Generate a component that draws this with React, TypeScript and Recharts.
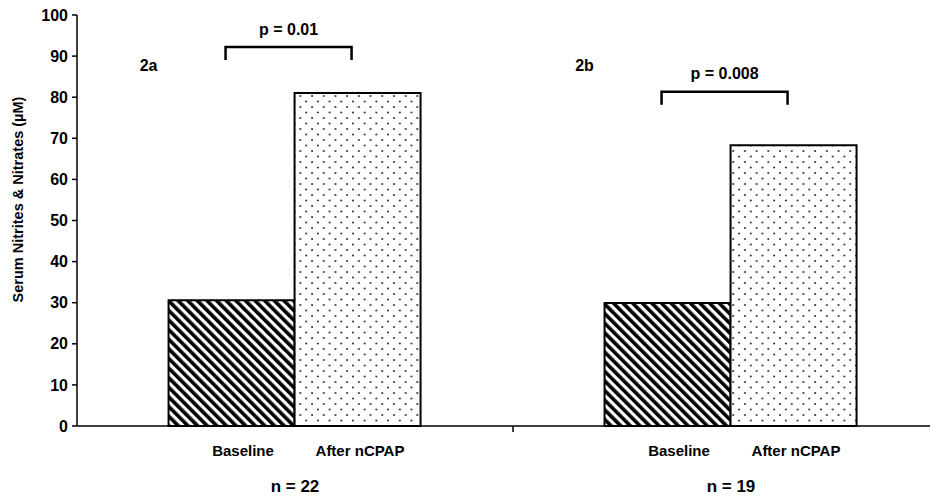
import React from 'react';
import { BarChart, Bar, XAxis, YAxis, LabelList } from 'recharts';

const groups = ['2a', '2b'];
const baselineValues = [30.6, 29.9];
const afterValues = [81.0, 68.3];
const seriesLabels = ['Baseline', 'After nCPAP'];
const nLabels = ['n = 22', 'n = 19'];
const pLabels = ['p = 0.01', 'p = 0.008'];
const bracketLevels = [92.2, 81.3];
const panelLabelLevel = 87.8;
const yTicks = [0, 10, 20, 30, 40, 50, 60, 70, 80, 90, 100];
const yTitle = 'Serum Nitrites & Nitrates (\u00b5M)';

const data = groups.map((g, i) => ({
  group: g,
  baseline: baselineValues[i],
  after: afterValues[i],
}));

const FONT = '"Liberation Sans", Arial, Helvetica, sans-serif';

const GroupTick = (props: any) => {
  const { x, y, payload, width, visibleTicksCount } = props;
  const i = payload?.index ?? props.index ?? 0;
  let off = payload?.offset;
  if (!(typeof off === 'number' && off > 3)) {
    off = width && visibleTicksCount ? width / visibleTicksCount / 2 : 0;
  }
  return (
    <g fontFamily={FONT} fontWeight="bold" fill="#000">
      <text x={x - 52} y={y + 30} textAnchor="middle" fontSize={15} fill="#000">
        {seriesLabels[0]}
      </text>
      <text x={x + 65} y={y + 30} textAnchor="middle" fontSize={15} fill="#000">
        {seriesLabels[1]}
      </text>
      <text x={x} y={y + 66} textAnchor="middle" fontSize={17} fill="#000">
        {nLabels[i]}
      </text>
      {i < groups.length - 1 && off ? (
        <line x1={x + off} x2={x + off} y1={y} y2={y + 6} stroke="#000" strokeWidth={1.5} />
      ) : null}
    </g>
  );
};

const BracketLabel = (props: any) => {
  const { x, y, width, height, index } = props;
  const v = afterValues[index];
  if (!v || !height) return null;
  const ppu = height / v;
  const base = y + height;
  const top = base - bracketLevels[index] * ppu;
  const left = x - width / 2 - 6;
  const right = x + width / 2 - 6;
  const panelY = base - panelLabelLevel * ppu;
  return (
    <g fontFamily={FONT} fontWeight="bold">
      <path
        d={`M${left},${top + 13} L${left},${top} L${right},${top} L${right},${top + 13}`}
        fill="none"
        stroke="#000"
        strokeWidth={2.5}
      />
      <text
        x={(left + right) / 2}
        y={top - 18}
        textAnchor="middle"
        dominantBaseline="central"
        fontSize={16}
        fill="#000"
      >
        {pLabels[index]}
      </text>
      <text
        x={x - width - 20}
        y={panelY}
        textAnchor="middle"
        dominantBaseline="central"
        fontSize={16}
        fill="#000"
      >
        {groups[index]}
      </text>
    </g>
  );
};

const YTitle = (props: any) => {
  const vb = props.viewBox || { x: 0, y: 0, width: 0, height: 0 };
  const cx = 18;
  const cy = vb.y + vb.height / 2 - 21;
  return (
    <text
      x={cx}
      y={cy}
      transform={`rotate(-90, ${cx}, ${cy})`}
      textAnchor="middle"
      dominantBaseline="central"
      fontFamily={FONT}
      fontWeight="bold"
      fontSize={14.5}
      fill="#000"
    >
      {yTitle}
    </text>
  );
};

export default function App() {
  return (
    <div
      style={{
        width: 938,
        height: 497,
        marginTop: -8,
        marginLeft: -8,
        overflow: 'hidden',
        background: '#fff',
      }}
    >
      <BarChart
        width={953}
        height={497}
        data={data}
        margin={{ top: 15, right: 4, bottom: 1, left: 0 }}
        barCategoryGap="21%"
        barGap={0}
      >
        <defs>
          <pattern
            id="hatch"
            patternUnits="userSpaceOnUse"
            width={6.8}
            height={6.8}
            patternTransform="rotate(-45)"
          >
            <rect x={0} y={0} width={6.8} height={6.8} fill="#fff" />
            <rect x={0} y={0} width={3.6} height={6.8} fill="#000" />
          </pattern>
          <pattern id="dots" patternUnits="userSpaceOnUse" width={11.7} height={11}>
            <rect x={0} y={0} width={11.7} height={11} fill="#fff" />
            <circle cx={2} cy={2.5} r={0.9} fill="#111" />
            <circle cx={7.85} cy={8} r={0.9} fill="#111" />
          </pattern>
        </defs>
        <XAxis
          dataKey="group"
          height={70}
          tickLine={false}
          tickSize={0}
          tickMargin={0}
          axisLine={{ stroke: '#000', strokeWidth: 1.5 }}
          tick={<GroupTick />}
          interval={0}
        />
        <YAxis
          width={77}
          domain={[0, 100]}
          ticks={yTicks}
          interval={0}
          tickSize={5}
          tickMargin={4}
          axisLine={{ stroke: '#000', strokeWidth: 1.5 }}
          tickLine={{ stroke: '#000', strokeWidth: 1.5 }}
          tick={{ fill: '#000', fontSize: 16, fontWeight: 'bold', fontFamily: FONT }}
          label={(p: any) => <YTitle {...p} />}
        />
        <Bar
          dataKey="baseline"
          fill="url(#hatch)"
          stroke="#000"
          strokeWidth={2}
          isAnimationActive={false}
        />
        <Bar
          dataKey="after"
          fill="url(#dots)"
          stroke="#000"
          strokeWidth={2}
          isAnimationActive={false}
        >
          <LabelList dataKey="after" content={(p: any) => <BracketLabel {...p} />} />
        </Bar>
      </BarChart>
    </div>
  );
}
